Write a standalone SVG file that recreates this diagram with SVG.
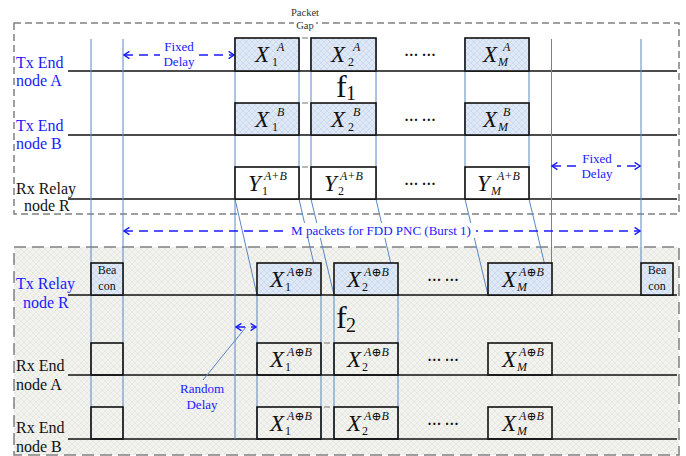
<svg xmlns="http://www.w3.org/2000/svg" width="686" height="456" viewBox="0 0 686 456">
<defs>
<style>
.t{font-family:"Liberation Serif","Times New Roman",serif}
.lbl{font-family:"Liberation Serif","Times New Roman",serif;font-size:16px}
.blu{fill:#1a1aff}
.blk{fill:#111}
.mx{font-family:"Liberation Serif","DejaVu Serif",serif;font-style:italic;font-size:23px;fill:#111}
.sp{font-family:"Liberation Serif","DejaVu Serif",serif;font-style:italic;font-size:12px;fill:#111}
.sb{font-family:"Liberation Serif","DejaVu Serif",serif;font-size:12px;fill:#111}
.sbi{font-family:"Liberation Serif","DejaVu Serif",serif;font-style:italic;font-size:12px;fill:#111}
.dots{font-family:"Liberation Serif",serif;font-size:14px;font-weight:bold;fill:#111}
.row{stroke:#111;stroke-width:1.4;fill:none}
.vl{stroke:#5a86c4;stroke-width:1;fill:none}
.boxb{fill:url(#hb);stroke:#111;stroke-width:1.6}
.boxw{fill:#fff;stroke:#111;stroke-width:1.6}
.boxn{fill:none;stroke:#111;stroke-width:1.6}
.darr{stroke:#1a1aff;stroke-width:1.5;stroke-dasharray:9 6;fill:none}
.gapm{stroke:#888;stroke-width:1.2}
.frame{fill:none;stroke:#808080;stroke-width:1.5}
.small{font-size:13px}
</style>
<pattern id="hb" width="6" height="6" patternUnits="userSpaceOnUse">
<rect width="6" height="6" fill="#dfe8f5"/>
<path d="M0,0 L6,6 M6,0 L0,6" stroke="#c6d4ec" stroke-width="0.7"/>
</pattern>
<pattern id="hg" width="6" height="6" patternUnits="userSpaceOnUse">
<rect width="6" height="6" fill="#f2f2ee"/>
<path d="M0,0 L6,6 M6,0 L0,6" stroke="#e4e4de" stroke-width="0.7"/>
</pattern>
<marker id="ah" viewBox="0 0 10 10" refX="9" refY="5" markerWidth="9" markerHeight="9" markerUnits="userSpaceOnUse" orient="auto-start-reverse">
<path d="M3,1 L9,5 L3,9" fill="none" stroke="#1a1aff" stroke-width="1.6"/>
</marker>
</defs>

<rect width="686" height="456" fill="#fff"/>

<!-- frames -->
<g id="frames">
<rect x="14" y="247" width="665" height="208" fill="url(#hg)" stroke="none"/>
<rect x="14" y="247" width="665" height="208" class="frame" stroke-dasharray="12 6"/>
<rect x="14" y="23" width="665" height="191" class="frame" stroke-dasharray="7 4"/>
</g>

<!-- row lines -->
<g id="rows">
<line class="row" x1="68" y1="71" x2="677" y2="71"/>
<line class="row" x1="68" y1="135" x2="677" y2="135"/>
<line class="row" x1="68" y1="199" x2="677" y2="199"/>
<line class="row" x1="68" y1="295" x2="677" y2="295"/>
<line class="row" x1="68" y1="375" x2="677" y2="375"/>
<line class="row" x1="68" y1="439" x2="677" y2="439"/>
</g>

<!-- connectors -->
<g id="connectors">
<line class="vl" x1="91" y1="39" x2="91" y2="439"/>
<line class="vl" x1="123" y1="39" x2="123" y2="439"/>
<line class="vl" x1="235" y1="38" x2="235" y2="439"/>
<polyline class="vl" points="235,199 257,295 257,439"/>
<polyline class="vl" points="299,38 299,199 321,295 321,439"/>
<polyline class="vl" points="311,38 311,199 334,295 334,439"/>
<polyline class="vl" points="376,38 376,199 398,295 398,439"/>
<polyline class="vl" points="465,38 465,199 488,295"/>
<polyline class="vl" points="529,38 529,199 552,295"/>
<line class="vl" x1="551.5" y1="39" x2="551.5" y2="295"/>
<line class="vl" x1="641" y1="39" x2="641" y2="263"/>
<line class="vl" x1="246" y1="327" x2="203" y2="380"/>
<line class="gapm" x1="302" y1="38" x2="308" y2="38"/>
<line class="gapm" x1="302" y1="103" x2="308" y2="103"/>
<line class="gapm" x1="302" y1="167" x2="308" y2="167"/>
<line class="gapm" x1="324" y1="343" x2="330" y2="343"/>
<line class="gapm" x1="324" y1="407" x2="330" y2="407"/>
<line class="darr" x1="124" y1="55" x2="234" y2="55" marker-start="url(#ah)" marker-end="url(#ah)"/>
<line class="darr" x1="552" y1="166" x2="640" y2="166" marker-start="url(#ah)" marker-end="url(#ah)"/>
<line class="darr" x1="124" y1="231" x2="640" y2="231" marker-start="url(#ah)" marker-end="url(#ah)"/>
<line class="darr" x1="236" y1="327" x2="256" y2="327" stroke-dasharray="4 3" marker-start="url(#ah)" marker-end="url(#ah)"/>
</g>

<!-- connector labels -->
<g id="labels">
<rect x="160" y="40" width="38" height="30" fill="#fff"/>
<text class="t blu small" x="179" y="51" text-anchor="middle">Fixed</text>
<text class="t blu small" x="179" y="66" text-anchor="middle">Delay</text>
<rect x="577" y="152" width="40" height="30" fill="#fff"/>
<text class="t blu small" x="597" y="163" text-anchor="middle">Fixed</text>
<text class="t blu small" x="597" y="178" text-anchor="middle">Delay</text>
<rect x="286" y="223" width="190" height="15" fill="#fff"/>
<text class="t blu small" x="381" y="235" text-anchor="middle">M packets for FDD PNC (Burst 1)</text>
<text class="t blu small" x="202" y="393" text-anchor="middle">Random</text>
<text class="t blu small" x="202" y="409" text-anchor="middle">Delay</text>
<text class="t" x="305" y="16" text-anchor="middle" font-size="10.5" fill="#333">Packet</text>
<rect x="294" y="19" width="22" height="11" fill="#fff"/>
<text class="t" x="305" y="29" text-anchor="middle" font-size="10.5" fill="#333">Gap</text>
<text class="t" x="336" y="97" font-size="32" fill="#111">f</text>
<text class="t" x="346" y="100" font-size="20" fill="#111">1</text>
<text class="t" x="336" y="328" font-size="32" fill="#111">f</text>
<text class="t" x="346" y="332" font-size="20" fill="#111">2</text>
</g>

<!-- row labels -->
<g id="node-txA">
<text class="lbl blu" x="16" y="68">Tx End</text>
<text class="lbl blu" x="16" y="86">node A</text>
</g>
<g id="node-txB">
<text class="lbl blu" x="16" y="131">Tx End</text>
<text class="lbl blu" x="16" y="149">node B</text>
</g>
<g id="node-rxR">
<text class="lbl blk" x="16" y="194">Rx Relay</text>
<text class="lbl blk" x="24" y="211">node R</text>
</g>
<g id="node-txR">
<text class="lbl blu" x="16" y="289">Tx Relay</text>
<text class="lbl blu" x="23" y="308">node R</text>
</g>
<g id="node-rxA">
<text class="lbl blk" x="16" y="371">Rx End</text>
<text class="lbl blk" x="16" y="390">node A</text>
</g>
<g id="node-rxB">
<text class="lbl blk" x="16" y="433">Rx End</text>
<text class="lbl blk" x="16" y="452">node B</text>
</g>

<!-- Tx End node A packets -->
<g id="xa1"><rect class="boxb" x="235" y="38" width="64" height="33"/>
<text class="mx" x="255" y="62">X</text><text class="sp" x="277" y="51">A</text><text class="sb" x="272" y="66">1</text></g>
<g id="xa2"><rect class="boxb" x="311" y="38" width="65" height="33"/>
<text class="mx" x="331" y="62">X</text><text class="sp" x="353" y="51">A</text><text class="sb" x="348" y="66">2</text></g>
<g id="dots-a"><text class="dots" x="420" y="56" text-anchor="middle">… …</text></g>
<g id="xaM"><rect class="boxb" x="465" y="38" width="64" height="33"/>
<text class="mx" x="483" y="62">X</text><text class="sp" x="503" y="51">A</text><text class="sbi" x="498" y="66">M</text></g>

<!-- Tx End node B packets -->
<g id="xb1"><rect class="boxb" x="235" y="103" width="64" height="32"/>
<text class="mx" x="255" y="127">X</text><text class="sp" x="277" y="116">B</text><text class="sb" x="272" y="131">1</text></g>
<g id="xb2"><rect class="boxb" x="311" y="103" width="65" height="32"/>
<text class="mx" x="331" y="127">X</text><text class="sp" x="353" y="116">B</text><text class="sb" x="348" y="131">2</text></g>
<g id="dots-b"><text class="dots" x="420" y="121" text-anchor="middle">… …</text></g>
<g id="xbM"><rect class="boxb" x="465" y="103" width="64" height="32"/>
<text class="mx" x="483" y="127">X</text><text class="sp" x="503" y="116">B</text><text class="sbi" x="498" y="131">M</text></g>

<!-- Rx Relay node R packets -->
<g id="y1"><rect class="boxw" x="235" y="167" width="64" height="32"/>
<text class="mx" x="248" y="191">Y</text><text class="sp" x="264" y="180">A+B</text><text class="sb" x="262" y="195">1</text></g>
<g id="y2"><rect class="boxw" x="311" y="167" width="65" height="32"/>
<text class="mx" x="324" y="191">Y</text><text class="sp" x="340" y="180">A+B</text><text class="sb" x="338" y="195">2</text></g>
<g id="dots-r"><text class="dots" x="420" y="185" text-anchor="middle">… …</text></g>
<g id="yM"><rect class="boxw" x="465" y="167" width="64" height="32"/>
<text class="mx" x="477" y="191">Y</text><text class="sp" x="497" y="180">A+B</text><text class="sbi" x="491" y="195">M</text></g>

<!-- Tx Relay node R -->
<g id="beacon1"><rect class="boxb" x="91" y="263" width="32" height="32"/>
<text class="t" x="107" y="274" font-size="12" text-anchor="middle" fill="#111">Bea</text>
<text class="t" x="107" y="290" font-size="12" text-anchor="middle" fill="#111">con</text></g>
<g id="xr1"><rect class="boxb" x="257" y="263" width="64" height="32"/>
<text class="mx" x="270" y="287">X</text><text class="sp" x="287" y="276">A⊕B</text><text class="sb" x="285" y="291">1</text></g>
<g id="xr2"><rect class="boxb" x="334" y="263" width="64" height="32"/>
<text class="mx" x="347" y="287">X</text><text class="sp" x="364" y="276">A⊕B</text><text class="sb" x="362" y="291">2</text></g>
<g id="dots-tr"><text class="dots" x="443" y="281" text-anchor="middle">… …</text></g>
<g id="xrM"><rect class="boxb" x="488" y="263" width="64" height="32"/>
<text class="mx" x="502" y="287">X</text><text class="sp" x="519" y="276">A⊕B</text><text class="sbi" x="517" y="291">M</text></g>
<g id="beacon2"><rect class="boxb" x="641" y="263" width="32" height="32"/>
<text class="t" x="657" y="274" font-size="12" text-anchor="middle" fill="#111">Bea</text>
<text class="t" x="657" y="290" font-size="12" text-anchor="middle" fill="#111">con</text></g>

<!-- Rx End node A -->
<g id="ea0"><rect class="boxn" x="91" y="343" width="32" height="32"/></g>
<g id="ea1"><rect class="boxn" x="257" y="343" width="64" height="32"/>
<text class="mx" x="270" y="367">X</text><text class="sp" x="287" y="356">A⊕B</text><text class="sb" x="285" y="371">1</text></g>
<g id="ea2"><rect class="boxn" x="334" y="343" width="64" height="32"/>
<text class="mx" x="347" y="367">X</text><text class="sp" x="364" y="356">A⊕B</text><text class="sb" x="362" y="371">2</text></g>
<g id="dots-ea"><text class="dots" x="443" y="361" text-anchor="middle">… …</text></g>
<g id="eaM"><rect class="boxn" x="488" y="343" width="64" height="32"/>
<text class="mx" x="502" y="367">X</text><text class="sp" x="519" y="356">A⊕B</text><text class="sbi" x="517" y="371">M</text></g>

<!-- Rx End node B -->
<g id="eb0"><rect class="boxn" x="91" y="407" width="32" height="32"/></g>
<g id="eb1"><rect class="boxn" x="257" y="407" width="64" height="32"/>
<text class="mx" x="270" y="431">X</text><text class="sp" x="287" y="420">A⊕B</text><text class="sb" x="285" y="435">1</text></g>
<g id="eb2"><rect class="boxn" x="334" y="407" width="64" height="32"/>
<text class="mx" x="347" y="431">X</text><text class="sp" x="364" y="420">A⊕B</text><text class="sb" x="362" y="435">2</text></g>
<g id="dots-eb"><text class="dots" x="443" y="425" text-anchor="middle">… …</text></g>
<g id="ebM"><rect class="boxn" x="488" y="407" width="64" height="32"/>
<text class="mx" x="502" y="431">X</text><text class="sp" x="519" y="420">A⊕B</text><text class="sbi" x="517" y="435">M</text></g>
</svg>
